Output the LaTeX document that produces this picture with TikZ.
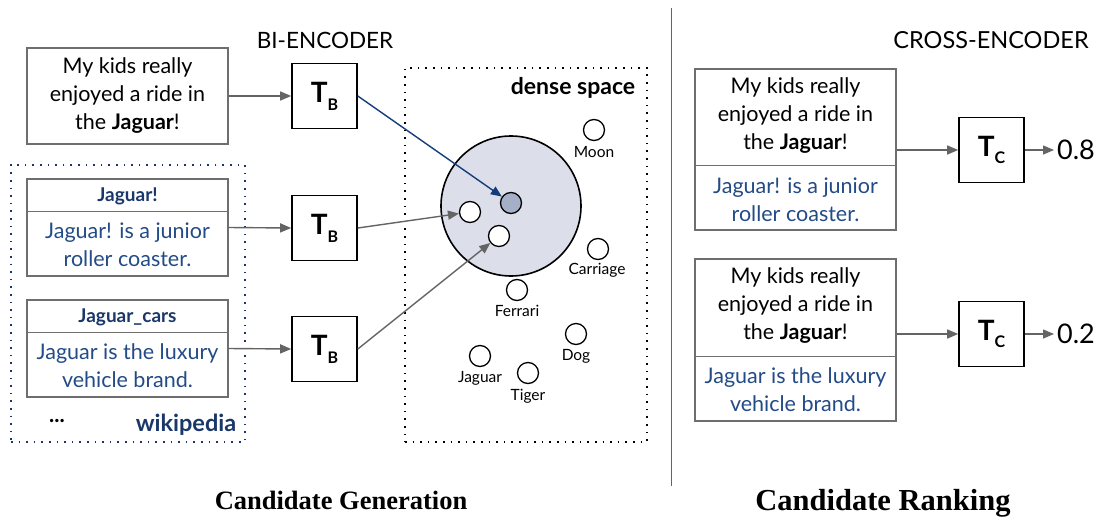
\documentclass[tikz,border=0pt]{standalone}
\usepackage{fontspec}
\setmainfont{Lato}
\newfontfamily\titlefont{Liberation Serif}
\usetikzlibrary{arrows.meta}
\definecolor{navy}{RGB}{25,55,105}
\definecolor{bluetxt}{RGB}{35,75,135}
\definecolor{arrgray}{RGB}{100,100,100}
\definecolor{boxgray}{RGB}{110,110,110}
\definecolor{spacefill}{RGB}{220,223,234}
\definecolor{dotfill}{RGB}{165,175,200}
\definecolor{arrblue}{RGB}{20,60,120}
\newcommand{\TT}[1]{T\raisebox{-0.28em}{\fontsize{16}{16}\selectfont\bfseries #1}}
\begin{document}
\begin{tikzpicture}[x=1pt,y=-1pt,
 textbox/.style={draw=boxgray,line width=1.3pt,minimum width=201pt,inner sep=0pt},
 tbox/.style={draw=black,line width=1.6pt,minimum width=65pt,minimum height=65pt,inner sep=0pt,font=\fontsize{28}{28}\selectfont\bfseries},
 arr/.style={draw=arrgray,line width=1.4pt,-{Triangle[length=11pt,width=9pt]}},
 arrb/.style={draw=arrblue,line width=1.4pt,-{Triangle[length=11pt,width=9pt]}},
 body/.style={font=\fontsize{21.5}{28}\selectfont,align=center,inner sep=0pt},
 head/.style={font=\fontsize{19}{19}\selectfont\bfseries,text=navy,inner sep=0pt},
 pt/.style={circle,draw=black,line width=1.3pt,minimum size=21pt,inner sep=0pt,fill=white},
 ptlabel/.style={font=\fontsize{15.5}{15.5}\selectfont,inner sep=0pt},
 dotbox/.style={line width=2pt,dash pattern=on 1.6pt off 6pt,inner sep=0pt},
 divline/.style={draw=boxgray,line width=1.3pt},
 sectitle/.style={font=\fontsize{22.5}{22.5}\selectfont,inner sep=0pt}
]
\path[use as bounding box] (0,0) rectangle (1101,520);

% ---------- left: bi-encoder ----------
\node[sectitle] (bi) at (325,40) {BI-ENCODER};

\node[textbox,minimum height=96pt,body] (q) at (127.5,96) {My kids really\\enjoyed a ride in\\the \textbf{Jaguar}!};
\node[tbox] (tb1) at (324.5,96) {\TT{B}};

\node[draw=navy,dotbox,minimum width=234pt,minimum height=277pt] (wiki) at (128,303.5) {};

\node[textbox,minimum height=97pt] (w1) at (127.5,227.5) {};
\draw[divline] ([yshift=-33pt]w1.north west) -- ([yshift=-33pt]w1.north east);
\node[head] (w1h) at (127.5,196) {Jaguar!};
\node[body,text=bluetxt] (w1b) at (127.5,245) {Jaguar! is a junior\\roller coaster.};
\node[tbox] (tb2) at (324.5,228) {\TT{B}};

\node[textbox,minimum height=97pt] (w2) at (127.5,348.5) {};
\draw[divline] ([yshift=-33pt]w2.north west) -- ([yshift=-33pt]w2.north east);
\node[head] (w2h) at (127.5,317) {Jaguar\_cars};
\node[body,text=bluetxt] (w2b) at (127.5,366) {Jaguar is the luxury\\vehicle brand.};
\node[tbox] (tb3) at (324.5,349) {\TT{B}};

\node[font=\fontsize{22}{22}\selectfont\bfseries,inner sep=0pt] (dots) at (57,421) {...};
\node[font=\fontsize{23.5}{23.5}\selectfont\bfseries,text=navy,inner sep=0pt] (wikilbl) at (186,425) {wikipedia};

% dense space
\node[draw=black,dotbox,minimum width=242pt,minimum height=374pt] (dense) at (526,255) {};
\node[font=\fontsize{23}{23}\selectfont\bfseries,inner sep=0pt] (dslbl) at (573,88) {dense space};

\node[circle,draw=black,line width=1.6pt,fill=spacefill,minimum size=140pt,inner sep=0pt] (big) at (511,206) {};
\node[pt,fill=dotfill] (qpt) at (511,203) {};
\node[pt] (e1) at (470,212) {};
\node[pt] (e2) at (499,236) {};

\node[pt] (moon) at (594,130) {};
\node[ptlabel] (moonl) at (594,152) {Moon};
\node[pt] (carr) at (598,249) {};
\node[ptlabel] (carrl) at (597,270) {Carriage};
\node[pt] (ferr) at (517,290) {};
\node[ptlabel] (ferrl) at (517,311) {Ferrari};
\node[pt] (dog) at (576,334) {};
\node[ptlabel] (dogl) at (576,356) {Dog};
\node[pt] (jag) at (480,356) {};
\node[ptlabel] (jagl) at (480,378) {Jaguar};
\node[pt] (tig) at (528,373) {};
\node[ptlabel] (tigl) at (528,396) {Tiger};

\draw[arr] (q.east) -- (tb1.west);
\draw[arr] (w1.east) -- (tb2.west);
\draw[arr] (w2.east) -- (tb3.west);
\draw[arrb] (tb1.east) -- (qpt);
\draw[arr] (tb2.east) -- (e1);
\draw[arr] (tb3.east) -- (e2);

% divider
\coordinate (dtop) at (671,8);
\coordinate (dbot) at (671,486);
\draw[draw=arrgray,line width=1pt] (dtop) -- (dbot);

% ---------- right: cross-encoder ----------
\node[sectitle,font=\fontsize{23.5}{23.5}\selectfont] (cross) at (991,40) {CROSS-ENCODER};

\node[textbox,minimum height=161pt] (ca) at (795.5,149.5) {};
\draw[divline] ([yshift=-97pt]ca.north west) -- ([yshift=-97pt]ca.north east);
\node[body] (cat) at (795.5,116) {My kids really\\enjoyed a ride in\\the \textbf{Jaguar}!};
\node[body,text=bluetxt] (cab) at (795.5,200) {Jaguar! is a junior\\roller coaster.};
\node[tbox] (tc1) at (991.5,150) {\TT{C}};
\coordinate (o1) at (1054,150);
\node[font=\fontsize{27}{27}\selectfont,inner sep=0pt,anchor=west] (s1) at (1057,150) {0.8};

\node[textbox,minimum height=162pt] (cb) at (795.5,340) {};
\draw[divline] ([yshift=-98pt]cb.north west) -- ([yshift=-98pt]cb.north east);
\node[body] (cbt) at (795.5,306) {My kids really\\enjoyed a ride in\\the \textbf{Jaguar}!};
\node[body,text=bluetxt] (cbb) at (795.5,390) {Jaguar is the luxury\\vehicle brand.};
\node[tbox] (tc2) at (991.5,334) {\TT{C}};
\coordinate (o2) at (1054,334);
\node[font=\fontsize{27}{27}\selectfont,inner sep=0pt,anchor=west] (s2) at (1057,334) {0.2};

\draw[arr] (ca.east |- tc1.west) -- (tc1.west);
\draw[arr] (cb.east |- tc2.west) -- (tc2.west);
\draw[arr] (tc1.east) -- (o1);
\draw[arr] (tc2.east) -- (o2);

% bottom titles
\node[font=\titlefont\bfseries\fontsize{26.5}{26.5}\selectfont,inner sep=0pt] (gen) at (341,500) {Candidate Generation};
\node[font=\titlefont\bfseries\fontsize{30.5}{30.5}\selectfont,inner sep=0pt] (rank) at (883,503) {Candidate Ranking};
\end{tikzpicture}
\end{document}
